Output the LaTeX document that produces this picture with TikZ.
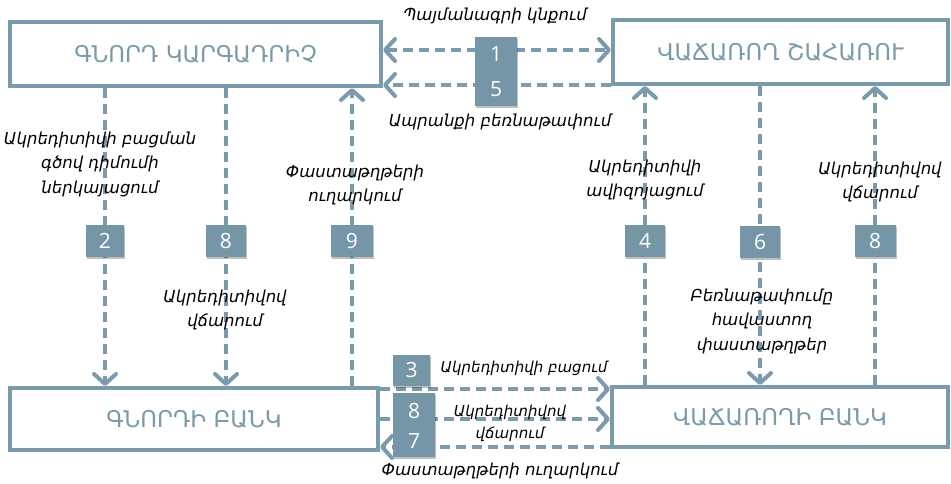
\documentclass[tikz,border=0pt]{standalone}
\usepackage{fontspec}
\setmainfont{DejaVu Sans}
\newfontfamily\numfont{Open Sans}
\usetikzlibrary{arrows.meta,shadows}
\definecolor{steel}{RGB}{122,155,171}
\definecolor{numfill}{RGB}{116,150,167}
\begin{document}
\begin{tikzpicture}[x=1pt,y=-1pt,
  bigbox/.style={draw=steel, line width=4pt, text=steel, inner sep=0pt,
    font=\fontsize{23}{27}\selectfont},
  dl/.style={draw=steel, line width=4pt, dash pattern=on 10pt off 6pt},
  >={Straight Barb[length=10pt,width=22pt,line width=4pt,round]},
  numbox/.style={fill=numfill, draw=none, inner sep=0pt, text=white,
    font=\numfont\fontsize{21}{22}\selectfont,
    drop shadow={shadow xshift=1pt, shadow yshift=-2pt, opacity=.25, fill=black}},
  numtxt/.style={text=white, inner sep=0pt, font=\numfont\fontsize{21}{22}\selectfont},
  lab/.style={align=center, inner sep=0pt, font=\itshape\fontsize{16.5}{24.5}\selectfont},
  smalllab/.style={lab, font=\itshape\fontsize{15}{22}\selectfont}
]
\useasboundingbox[fill=white] (0,0) rectangle (951,484);

% main boxes
\node[bigbox, minimum width=371pt, minimum height=64pt] (tl) at (195.5,54) {ԳՆՈՐԴ ԿԱՐԳԱԴՐԻՉ};
\node[bigbox, minimum width=335pt, minimum height=64pt] (tr) at (780.5,52) {ՎԱՃԱՌՈՂ ՇԱՀԱՌՈՒ};
\node[bigbox, minimum width=368pt, minimum height=62pt] (bl) at (194,419) {ԳՆՈՐԴԻ ԲԱՆԿ};
\node[bigbox, minimum width=336pt, minimum height=60pt] (br) at (780,417) {ՎԱՃԱՌՈՂԻ ԲԱՆԿ};

% column and row helpers
\coordinate (cA) at (105,0);
\coordinate (cB) at (226,0);
\coordinate (cC) at (352,0);
\coordinate (cD) at (645,0);
\coordinate (cE) at (760,0);
\coordinate (cF) at (875,0);
\coordinate (h1) at (0,50);
\coordinate (h5) at (0,85);
\coordinate (h3) at (0,389);
\coordinate (h8) at (0,419);
\coordinate (h7) at (0,447);

% vertical connectors
\draw[dl,->] (tl.south -| cA) -- (bl.north -| cA);
\draw[dl,->] (tl.south -| cB) -- (bl.north -| cB);
\draw[dl,->] (bl.north -| cC) -- (tl.south -| cC);
\draw[dl,->] (br.north -| cD) -- (tr.south -| cD);
\draw[dl,->] (tr.south -| cE) -- (br.north -| cE);
\draw[dl,->] (br.north -| cF) -- (tr.south -| cF);

% horizontal connectors
\draw[dl,<->] (tl.east |- h1) -- (tr.west |- h1);
\draw[dl,->] (tr.west |- h5) -- (tl.east |- h5);
\draw[dl,->] (bl.east |- h3) -- (br.west |- h3);
\draw[dl,->] (bl.east |- h8) -- (br.west |- h8);
\draw[dl,->] (br.west |- h7) -- (bl.east |- h7);

% number boxes
\node[numbox, minimum width=38pt, minimum height=32pt] (n2) at (105,241) {2};
\node[numbox, minimum width=40pt, minimum height=32pt] (n8a) at (226,241) {8};
\node[numbox, minimum width=42pt, minimum height=32pt] (n9) at (352,241) {9};
\node[numbox, minimum width=40pt, minimum height=32pt] (n4) at (645,241) {4};
\node[numbox, minimum width=40pt, minimum height=32pt] (n6) at (760,242) {6};
\node[numbox, minimum width=41pt, minimum height=32pt] (n8b) at (875,241) {8};

\node[numbox, minimum width=42pt, minimum height=69pt] (n15) at (496,71.5) {};
\node[numtxt] (t1) at (496,54) {1};
\node[numtxt] (t5) at (496,89) {5};

\node[numbox, minimum width=37pt, minimum height=31pt] (n3) at (411.5,370) {3};
\node[numbox, minimum width=42pt, minimum height=64pt] (n87) at (414,425) {};
\node[numtxt] (t8) at (414,411) {8};
\node[numtxt] (t7) at (414,441) {7};

% labels
\node[lab] (l1) at (495,16) {Պայմանագրի կնքում};
\node[lab] (l5) at (500,122) {Ապրանքի բեռնաթափում};
\node[lab] (l2) at (100,164) {Ակրեդիտիվի բացման\\գծով դիմումի\\ներկայացում};
\node[lab] (l8a) at (225,310) {Ակրեդիտիվով\\վճարում};
\node[lab] (l9) at (355,185) {Փաստաթղթերի\\ուղարկում};
\node[lab] (l4) at (645,180) {Ակրեդիտիվի\\ավիզոյացում};
\node[lab] (l8b) at (880,182) {Ակրեդիտիվով\\վճարում};
\node[lab] (l6) at (762,321) {Բեռնաթափումը\\հավաստող\\փաստաթղթեր};
\node[smalllab] (l3) at (524,368) {Ակրեդիտիվի բացում};
\node[smalllab] (l8c) at (510,423) {Ակրեդիտիվով\\վճարում};
\node[lab] (l7) at (500,471) {Փաստաթղթերի ուղարկում};
\end{tikzpicture}
\end{document}
